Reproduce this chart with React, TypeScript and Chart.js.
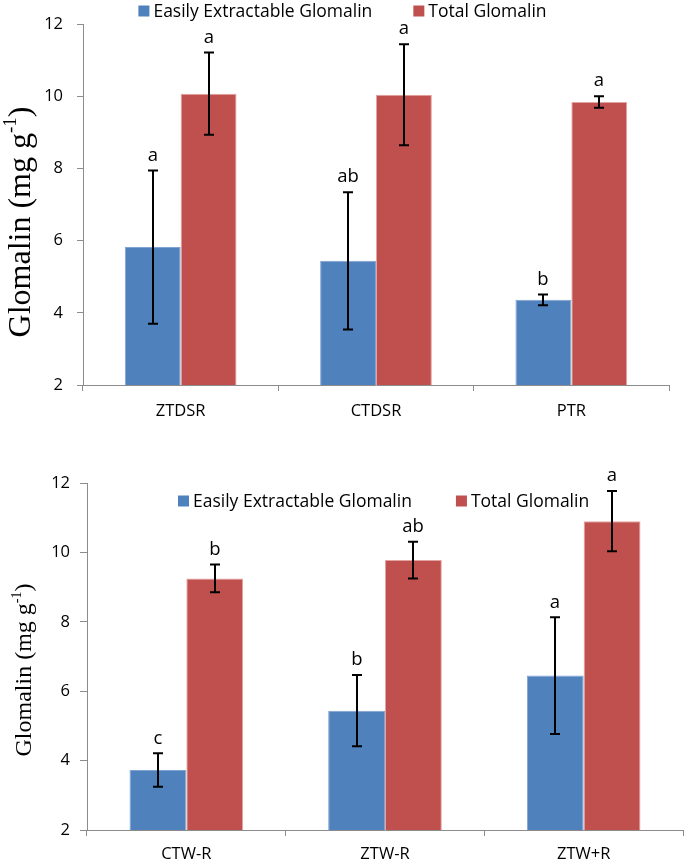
import React, { useEffect, useRef } from "react";
import { Chart, registerables } from "chart.js";

Chart.register(...registerables);

// ---------- data ----------
const seriesNames = ["Easily Extractable Glomalin", "Total Glomalin"];
const seriesColors = ["#4F81BD", "#C0504D"];
const seriesEdges = ["#7FA3D2", "#E3A3A1"];

const topCategories = ["ZTDSR", "CTDSR", "PTR"];
const topEasily = [5.82, 5.44, 4.36];
const topEasilyErr = [2.12, 1.9, 0.15];
const topTotal = [10.07, 10.04, 9.84];
const topTotalErr = [1.14, 1.4, 0.16];
const topEasilyLetters = ["a", "ab", "b"];
const topTotalLetters = ["a", "a", "a"];

const bottomCategories = ["CTW-R", "ZTW-R", "ZTW+R"];
const bottomEasily = [3.73, 5.44, 6.45];
const bottomEasilyErr = [0.48, 1.03, 1.68];
const bottomTotal = [9.25, 9.78, 10.9];
const bottomTotalErr = [0.4, 0.53, 0.87];
const bottomEasilyLetters = ["c", "b", "a"];
const bottomTotalLetters = ["b", "ab", "a"];

const yMin = 2;
const yMax = 12;
const yStep = 2;

const axisTitleMain = "Glomalin (mg g";
const axisTitleSup = "-1";
const axisTitleEnd = ")";

// ---------- plugins ----------
const errorBarPlugin = {
  id: "errorBars",
  afterDatasetsDraw(chart: any, _args: any, opts: any) {
    const ctx = chart.ctx;
    const y = chart.scales.y;
    chart.data.datasets.forEach((ds: any, i: number) => {
      const meta = chart.getDatasetMeta(i);
      meta.data.forEach((bar: any, j: number) => {
        const v = ds.data[j];
        const e = ds.errors[j];
        const yt = y.getPixelForValue(v + e);
        const yb = y.getPixelForValue(v - e);
        const x = Math.round(bar.x);
        ctx.save();
        ctx.strokeStyle = "#000";
        ctx.lineWidth = 2;
        ctx.beginPath();
        ctx.moveTo(x, yt);
        ctx.lineTo(x, yb);
        ctx.moveTo(x - 5, yt);
        ctx.lineTo(x + 5, yt);
        ctx.moveTo(x - 5, yb);
        ctx.lineTo(x + 5, yb);
        ctx.stroke();
        ctx.fillStyle = "#000";
        ctx.font = opts.letterFont;
        ctx.textAlign = "center";
        ctx.textBaseline = "middle";
        ctx.fillText(ds.letters[j], x, yt - opts.letterGap);
        ctx.restore();
      });
    });
  },
};

const customLegendPlugin = {
  id: "customLegend",
  afterDraw(chart: any, _args: any, opts: any) {
    const ctx = chart.ctx;
    ctx.save();
    ctx.font = opts.font;
    ctx.textBaseline = "middle";
    ctx.textAlign = "left";
    const items = chart.data.datasets.map((d: any) => ({
      label: d.label,
      color: d.backgroundColor,
      w: ctx.measureText(d.label).width,
    }));
    const box = opts.boxSize;
    let total = 0;
    items.forEach((it: any, k: number) => {
      total += box + opts.textGap + it.w + (k < items.length - 1 ? opts.itemGap : 0);
    });
    let x = opts.x === "center" ? (chart.width - total) / 2 : opts.x;
    items.forEach((it: any) => {
      ctx.fillStyle = it.color;
      ctx.fillRect(x, opts.y - box / 2, box, box);
      x += box + opts.textGap;
      ctx.fillStyle = "#000";
      ctx.fillText(it.label, x, opts.y + 1);
      x += it.w + opts.itemGap;
    });
    ctx.restore();
  },
};

const axisTitlePlugin = {
  id: "axisTitle",
  afterDraw(chart: any, _args: any, opts: any) {
    const ctx = chart.ctx;
    const s = opts.size;
    const fam = '"Liberation Serif", "Times New Roman", serif';
    ctx.save();
    ctx.translate(opts.x, opts.y);
    ctx.rotate(-Math.PI / 2);
    ctx.fillStyle = "#000";
    ctx.textBaseline = "middle";
    ctx.textAlign = "left";
    const mainFont = `${s}px ${fam}`;
    const supFont = `${Math.round(s * 0.6)}px ${fam}`;
    ctx.font = mainFont;
    const w1 = ctx.measureText(axisTitleMain).width;
    const w3 = ctx.measureText(axisTitleEnd).width;
    ctx.font = supFont;
    const w2 = ctx.measureText(axisTitleSup).width;
    let x = -(w1 + w2 + w3) / 2;
    ctx.font = mainFont;
    ctx.fillText(axisTitleMain, x, 0);
    x += w1;
    ctx.font = supFont;
    ctx.fillText(axisTitleSup, x, -s * 0.33);
    x += w2;
    ctx.font = mainFont;
    ctx.fillText(axisTitleEnd, x, 0);
    ctx.restore();
  },
};

// ---------- chart component ----------
type PanelProps = {
  categories: string[];
  easily: number[];
  easilyErr: number[];
  total: number[];
  totalErr: number[];
  easilyLetters: string[];
  totalLetters: string[];
  width: number;
  height: number;
  top: number;
  layout: any;
};

function Panel(p: PanelProps) {
  const ref = useRef<HTMLCanvasElement | null>(null);
  useEffect(() => {
    if (!ref.current) return;
    const L = p.layout;
    const gray = "#8C8C8C";
    const chart = new Chart(ref.current, {
      type: "bar",
      data: {
        labels: p.categories,
        datasets: [
          {
            label: seriesNames[0],
            data: p.easily,
            backgroundColor: seriesColors[0],
            borderColor: seriesEdges[0],
            borderWidth: 1,
            errors: p.easilyErr,
            letters: p.easilyLetters,
            categoryPercentage: 0.572,
            barPercentage: 1.0,
          } as any,
          {
            label: seriesNames[1],
            data: p.total,
            backgroundColor: seriesColors[1],
            borderColor: seriesEdges[1],
            borderWidth: 1,
            errors: p.totalErr,
            letters: p.totalLetters,
            categoryPercentage: 0.572,
            barPercentage: 1.0,
          } as any,
        ],
      },
      options: {
        responsive: false,
        animation: false,
        devicePixelRatio: 1,
        layout: { padding: { top: L.padTop, right: L.padRight, left: 0, bottom: 0 } },
        scales: {
          x: {
            offset: true,
            grid: {
              offset: true,
              drawOnChartArea: false,
              drawTicks: true,
              tickLength: 6,
              color: gray,
            },
            border: { color: gray, width: 1 },
            ticks: {
              color: "#000",
              padding: L.xPad,
              font: { family: "Open Sans", size: 16.5 },
            },
            afterFit: (s: any) => {
              s.height = L.xHeight;
            },
          },
          y: {
            min: yMin,
            max: yMax,
            grid: {
              drawOnChartArea: false,
              drawTicks: true,
              tickLength: L.yTickLen,
              color: gray,
            },
            border: { color: gray, width: 1 },
            ticks: {
              stepSize: yStep,
              color: "#000",
              padding: L.yPad,
              font: { family: "Open Sans", size: 16.5 },
            },
            afterFit: (s: any) => {
              s.width = L.yWidth;
            },
          },
        },
        plugins: {
          legend: { display: false },
          tooltip: { enabled: false },
          errorBars: { letterFont: "18.5px 'Open Sans'", letterGap: 15 },
          customLegend: {
            x: L.legendX,
            y: L.legendY,
            font: "17.5px 'Open Sans'",
            boxSize: 11,
            textGap: 4,
            itemGap: L.legendGap,
          },
          axisTitle: { x: L.titleX, y: L.titleY, size: L.titleSize },
        } as any,
      },
      plugins: [errorBarPlugin, customLegendPlugin, axisTitlePlugin],
    } as any);
    return () => chart.destroy();
  }, []);
  return (
    <canvas
      ref={ref}
      width={p.width}
      height={p.height}
      style={{ position: "absolute", left: 0, top: p.top, width: p.width, height: p.height }}
    />
  );
}

export default function App() {
  return (
    <div style={{ position: "absolute", left: 0, top: 0, width: 685, height: 868, background: "#fff" }}>
      <Panel
        categories={topCategories}
        easily={topEasily}
        easilyErr={topEasilyErr}
        total={topTotal}
        totalErr={topTotalErr}
        easilyLetters={topEasilyLetters}
        totalLetters={topTotalLetters}
        width={685}
        height={430}
        top={0}
        layout={{
          padTop: 24,
          padRight: 16,
          xHeight: 45,
          xPad: 10,
          yWidth: 83,
          yPad: 14,
          yTickLen: 6,
          legendX: "center",
          legendY: 11,
          legendGap: 41,
          titleX: 22,
          titleY: 222,
          titleSize: 32,
        }}
      />
      <Panel
        categories={bottomCategories}
        easily={bottomEasily}
        easilyErr={bottomEasilyErr}
        total={bottomTotal}
        totalErr={bottomTotalErr}
        easilyLetters={bottomEasilyLetters}
        totalLetters={bottomTotalLetters}
        width={685}
        height={438}
        top={430}
        layout={{
          padTop: 53,
          padRight: 2,
          xHeight: 38,
          xPad: 8,
          yWidth: 87,
          yPad: 10,
          yTickLen: 7,
          legendX: 178,
          legendY: 71,
          legendGap: 44,
          titleX: 25,
          titleY: 240,
          titleSize: 24,
        }}
      />
    </div>
  );
}
